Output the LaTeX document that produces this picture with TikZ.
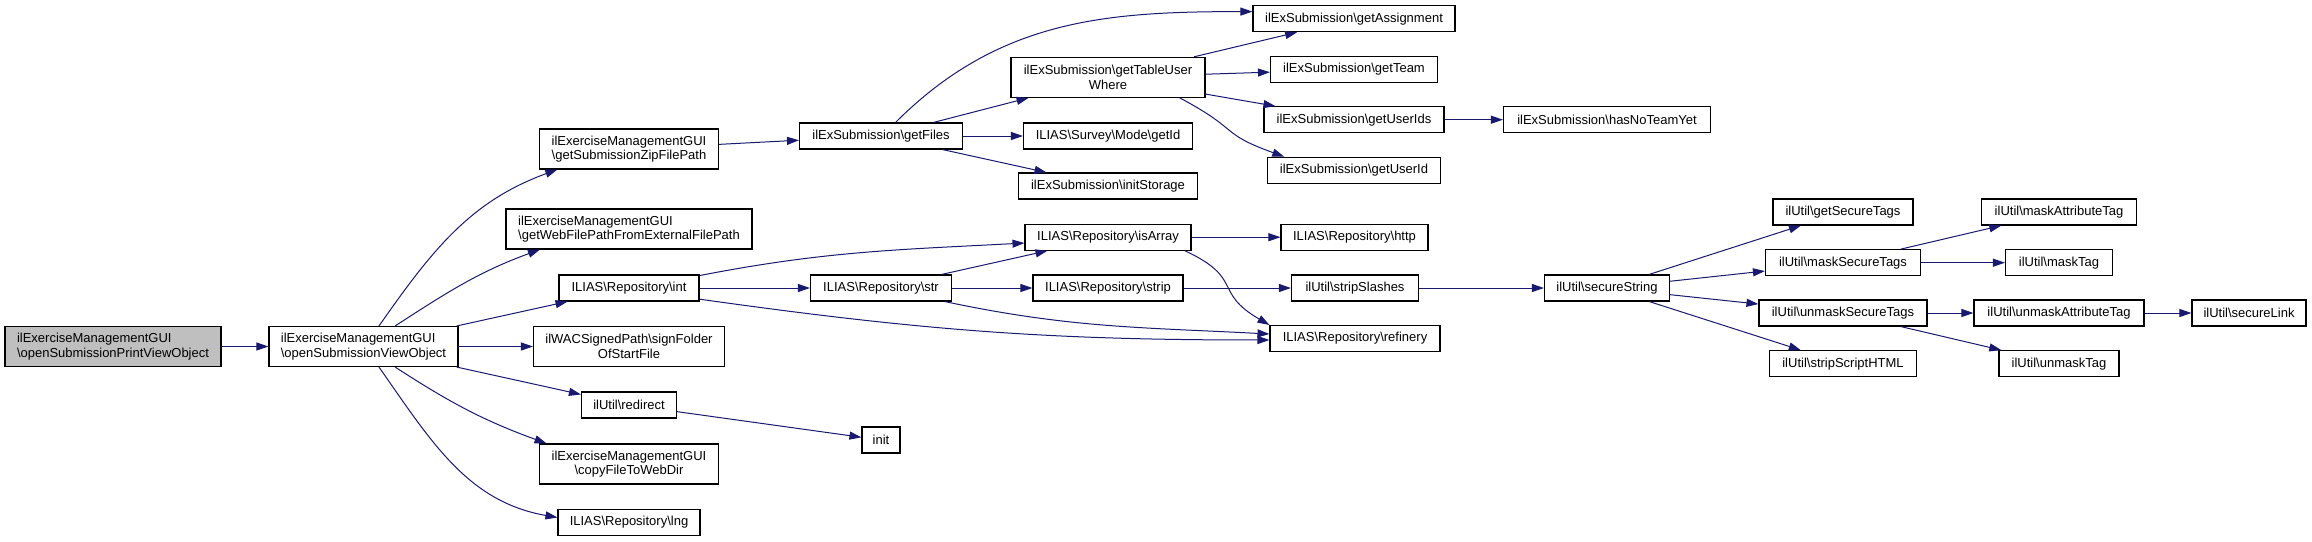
\documentclass[tikz,border=0pt]{standalone}
\usepackage{fontspec}
\setmainfont{Liberation Sans}
\usetikzlibrary{arrows.meta}
\definecolor{callblue}{RGB}{25,25,112}
\definecolor{rootgray}{RGB}{191,191,191}
\newcommand{\bsl}{\textbackslash}
\tikzset{
	fn/.style={draw=black, line width=1.1pt, inner sep=0pt, minimum height=26pt, minimum width=#1pt, font=\fontsize{13}{14.5}\selectfont},
	two/.style={minimum height=40pt},
	call/.style={callblue, line width=1pt},
}
\begin{document}
\begin{tikzpicture}[x=1pt,y=1pt,>={Triangle[length=12pt,width=8pt]}]
		\useasboundingbox (0,0) rectangle (2312,-541);
		\node[fn=216, two, fill=rootgray, align=left] (printview) at (113,-346.5) {ilExerciseManagementGUI\\\bsl openSubmissionPrintViewObject};
		\node[fn=189, two, align=left] (viewobj) at (363.5,-346.5) {ilExerciseManagementGUI\\\bsl openSubmissionViewObject};
		\node[fn=179, two, align=left] (zippath) at (629,-149) {ilExerciseManagementGUI\\\bsl getSubmissionZipFilePath};
		\node[fn=246, two, align=left] (webpath) at (629,-229) {ilExerciseManagementGUI\\\bsl getWebFilePathFromExternalFilePath};
		\node[fn=140] (repoint) at (629,-288) {ILIAS\bsl Repository\bsl int};
		\node[fn=191, two, align=center] (signfolder) at (629,-346.5) {ilWACSignedPath\bsl signFolder\\OfStartFile};
		\node[fn=95] (redirect) at (629,-405) {ilUtil\bsl redirect};
		\node[fn=179, two, align=center] (copyfile) at (629,-464) {ilExerciseManagementGUI\\\bsl copyFileToWebDir};
		\node[fn=142] (repolng) at (629,-522.5) {ILIAS\bsl Repository\bsl lng};
		\node[fn=163] (getfiles) at (881,-136) {ilExSubmission\bsl getFiles};
		\node[fn=141] (repostr) at (881,-288) {ILIAS\bsl Repository\bsl str};
		\node[fn=38] (init) at (881,-440) {init};
		\node[fn=194, two, align=center] (tableuser) at (1108,-77.3) {ilExSubmission\bsl getTableUser\\Where};
		\node[fn=169] (surveyid) at (1108,-136) {ILIAS\bsl Survey\bsl Mode\bsl getId};
		\node[fn=179] (initstorage) at (1108,-186) {ilExSubmission\bsl initStorage};
		\node[fn=166] (isarray) at (1108,-237.2) {ILIAS\bsl Repository\bsl isArray};
		\node[fn=150] (repostrip) at (1108,-288) {ILIAS\bsl Repository\bsl strip};
		\node[fn=202] (assignment) at (1354,-18.7) {ilExSubmission\bsl getAssignment};
		\node[fn=167] (team) at (1354,-69.5) {ilExSubmission\bsl getTeam};
		\node[fn=180] (userids) at (1354,-119.7) {ilExSubmission\bsl getUserIds};
		\node[fn=173] (userid) at (1354,-170.3) {ilExSubmission\bsl getUserId};
		\node[fn=147] (http) at (1354.5,-237.2) {ILIAS\bsl Repository\bsl http};
		\node[fn=127] (stripslashes) at (1355,-288) {ilUtil\bsl stripSlashes};
		\node[fn=170] (refinery) at (1355,-338.5) {ILIAS\bsl Repository\bsl refinery};
		\node[fn=207] (noteam) at (1607,-119.7) {ilExSubmission\bsl hasNoTeamYet};
		\node[fn=125] (securestring) at (1607,-288) {ilUtil\bsl secureString};
		\node[fn=140] (securetags) at (1843,-212) {ilUtil\bsl getSecureTags};
		\node[fn=155] (masktags) at (1843,-262.7) {ilUtil\bsl maskSecureTags};
		\node[fn=168] (unmasktags) at (1843,-313) {ilUtil\bsl unmaskSecureTags};
		\node[fn=147] (striphtml) at (1843,-363.7) {ilUtil\bsl stripScriptHTML};
		\node[fn=155] (maskattr) at (2059,-212) {ilUtil\bsl maskAttributeTag};
		\node[fn=107] (masktag) at (2059,-262.7) {ilUtil\bsl maskTag};
		\node[fn=170] (unmaskattr) at (2059,-313) {ilUtil\bsl unmaskAttributeTag};
		\node[fn=120] (unmasktag) at (2059,-363.7) {ilUtil\bsl unmaskTag};
		\node[fn=114] (securelink) at (2249,-313) {ilUtil\bsl secureLink};
		\foreach \a/\b in {printview/viewobj, viewobj/repoint, viewobj/signfolder, viewobj/redirect, redirect/init,
			zippath/getfiles, getfiles/tableuser, getfiles/surveyid, getfiles/initstorage,
			tableuser/assignment, tableuser/team, tableuser/userids, userids/noteam,
			repoint/repostr, repostr/isarray, repostr/repostrip, isarray/http, repostrip/stripslashes, stripslashes/securestring,
			securestring/securetags, securestring/masktags, securestring/unmasktags, securestring/striphtml,
			masktags/maskattr, masktags/masktag, unmasktags/unmaskattr, unmasktags/unmasktag, unmaskattr/securelink}
		{
			\draw[call,->] (\a) -- (\b);
		}
		\draw[call,->] (viewobj.53) to[out=55,in=200] (zippath.196);
		\draw[call,->] (viewobj.33) to[out=33,in=200] (webpath.193);
		\draw[call,->] (viewobj.-33) to[out=-33,in=160] (copyfile.166);
		\draw[call,->] (viewobj.-53) to[out=-55,in=170] (repolng.176);
		\draw[call,->] (getfiles.43) to[out=45,in=180] (assignment.176);
		\draw[call,->] (tableuser.-16.5) to[out=-28,in=160,looseness=1.5] (userid.169);
		\draw[call,->] (repoint.10) to[out=11,in=183] (isarray.184);
		\draw[call,->] (repoint.-9) to[out=-8,in=180] (refinery.181.5);
		\draw[call,->] (repostr.-12.6) to[out=-12,in=177] (refinery.177);
		\draw[call,->] (isarray.-10.5) to[out=-25,in=150,looseness=1.5] (refinery.171);
\end{tikzpicture}
\end{document}
